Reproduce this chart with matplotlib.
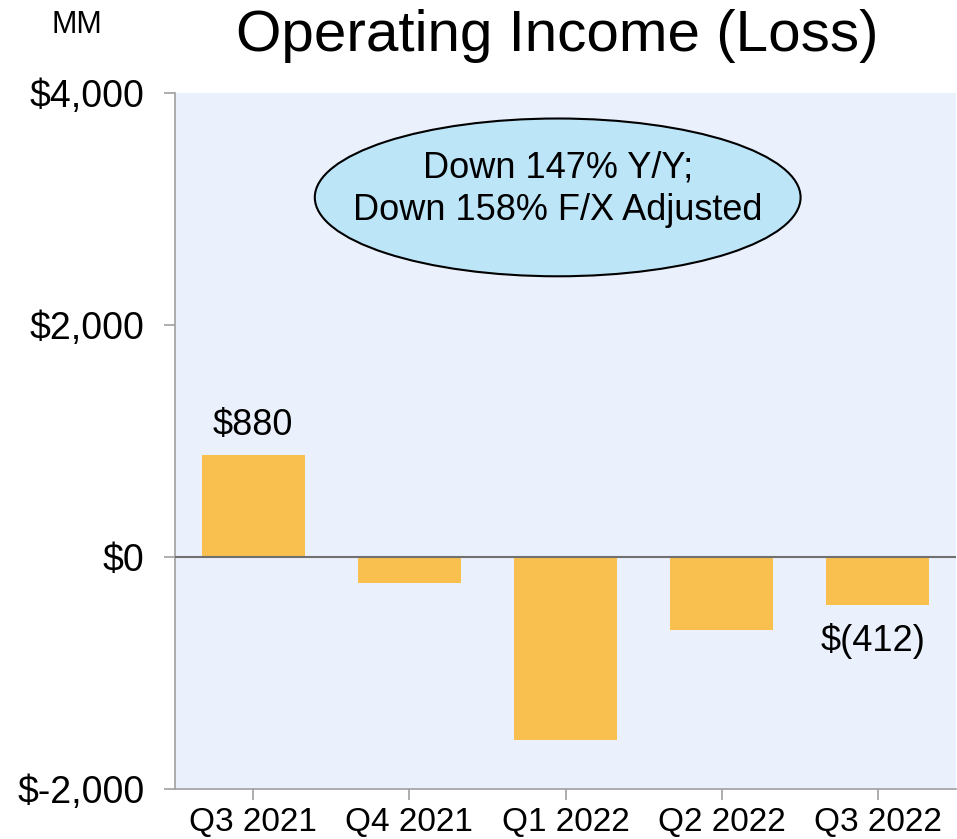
import matplotlib.pyplot as plt
from matplotlib.patches import Ellipse

quarters = ['Q3 2021', 'Q4 2021', 'Q1 2022', 'Q2 2022', 'Q3 2022']
op_income = [880, -220, -1575, -630, -412]
yticks = [-2000, 0, 2000, 4000]
ytick_labels = ['$-2,000', '$0', '$2,000', '$4,000']

plt.rcParams['font.family'] = ['Liberation Sans', 'DejaVu Sans']

fig = plt.figure(figsize=(9.57, 8.39), dpi=100)
ax = fig.add_axes([175 / 957, 1 - 789 / 839, 781 / 957, 696 / 839])
ax.set_facecolor('#eaf1fc')

x = range(len(quarters))
ax.bar(x, op_income, width=0.66, color='#f9c04f', zorder=2)
ax.axhline(0, color='#707070', lw=1.5, zorder=3)

ax.set_xlim(-0.5, 4.5)
ax.set_ylim(-2000, 4000)
ax.set_xticks(list(x))
ax.set_xticklabels(quarters, fontsize=24)
ax.set_yticks(yticks)
ax.set_yticklabels(ytick_labels, fontsize=27)
ax.tick_params(axis='both', colors='#a0a0a0', length=8, width=1.2, labelcolor='black')
ax.tick_params(axis='y', pad=14)
ax.tick_params(axis='x', pad=5)

for s in ['top', 'right']:
    ax.spines[s].set_visible(False)
for s in ['left', 'bottom']:
    ax.spines[s].set_color('#a0a0a0')
    ax.spines[s].set_linewidth(1.2)

# value labels on first and last bar
ax.text(0, op_income[0] + 100, '$880', ha='center', va='bottom', fontsize=26)
ax.text(3.97, op_income[4] - 160, '$(412)', ha='center', va='top', fontsize=26)

ell = Ellipse((1.95, 3100), 3.11, 1360, facecolor='#bde5f8', edgecolor='black',
              lw=1.5, zorder=4)
ax.add_patch(ell)
ax.text(1.95, 3170, 'Down 147% Y/Y;\nDown 158% F/X Adjusted', ha='center',
        va='center', fontsize=26, linespacing=1.25, zorder=5)

fig.text(557 / 957, 1 - 36 / 839, 'Operating Income (Loss)', ha='center',
         va='center', fontsize=42)
fig.text(77 / 957, 1 - 25 / 839, 'MM', ha='center', va='center', fontsize=22)

fig.savefig('out.png', dpi=100)
